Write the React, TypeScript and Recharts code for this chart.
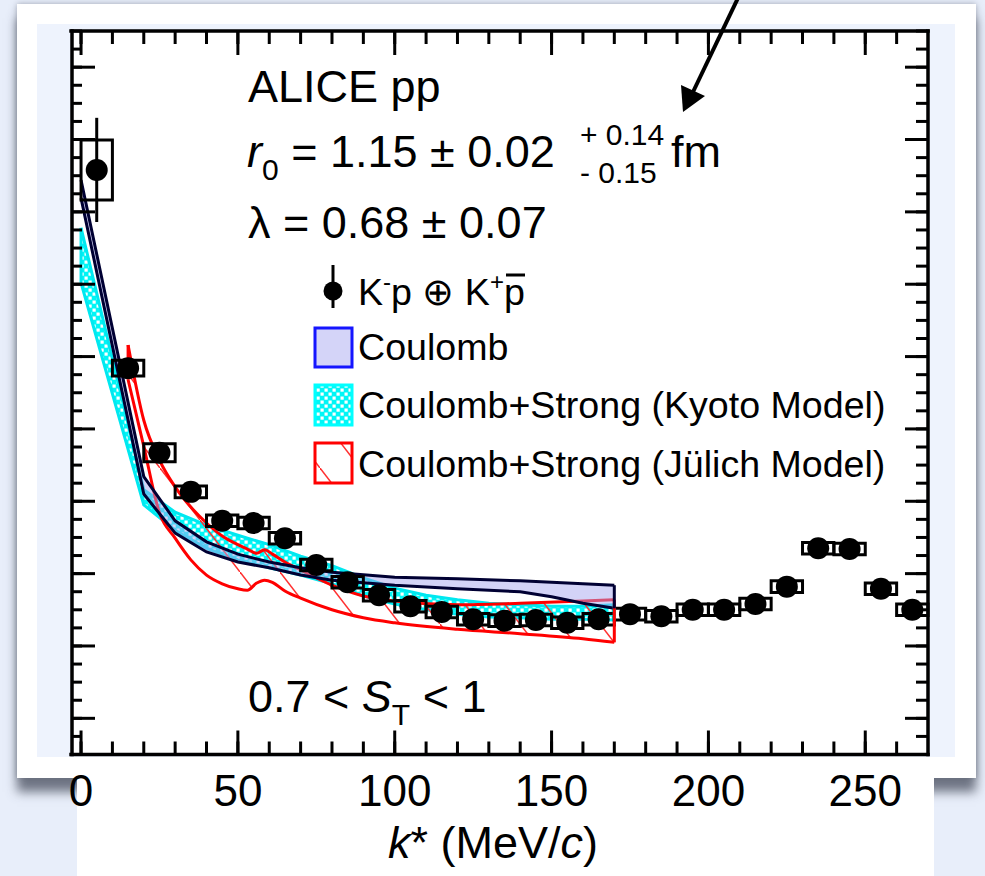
import React from 'react'
import {
  ComposedChart,
  Area,
  Scatter,
  XAxis,
  YAxis,
  ErrorBar,
  ReferenceArea,
  ReferenceLine,
} from 'recharts'

// K-p (+) K+pbar correlation, 0.7 < S_T < 1
const kStar = [5, 15, 25, 35, 45, 55, 65, 75, 85, 95, 105, 115, 125, 135, 145, 155, 165, 175, 185, 195, 205, 215, 225, 235, 245, 255, 265]
const corr = [1.658, 1.384, 1.267, 1.213, 1.173, 1.17, 1.149, 1.112, 1.088, 1.07, 1.055, 1.047, 1.037, 1.035, 1.036, 1.032, 1.037, 1.044, 1.041, 1.05, 1.05, 1.058, 1.082, 1.135, 1.134, 1.079, 1.05]
const statErr = [0.072, 0.012, 0.01, 0.007, 0.006, 0.006, 0.006, 0.005, 0.005, 0.005, 0.005, 0.005, 0.005, 0.005, 0.005, 0.005, 0.005, 0.005, 0.005, 0.005, 0.005, 0.005, 0.005, 0.005, 0.005, 0.005, 0.005]
const systErr = [0.0415, 0.011, 0.0125, 0.008, 0.008, 0.008, 0.008, 0.008, 0.008, 0.008, 0.008, 0.008, 0.008, 0.008, 0.008, 0.008, 0.008, 0.008, 0.008, 0.008, 0.008, 0.008, 0.008, 0.008, 0.008, 0.008, 0.008]
const binHalf = 5

// Coulomb only
const coulombK = [0, 20, 30, 40, 50, 60, 70, 80, 100, 120, 140, 150, 160, 170]
const coulombLow = [1.619, 1.21, 1.156, 1.13, 1.116, 1.108, 1.098, 1.091, 1.084, 1.079, 1.075, 1.068, 1.059, 1.052]
const coulombHigh = [1.644, 1.234, 1.173, 1.144, 1.127, 1.116, 1.108, 1.102, 1.095, 1.093, 1.09, 1.088, 1.086, 1.084]

// Coulomb+Strong, Kyoto
const kyotoK = [0, 20, 30, 40, 50, 60, 70, 80, 90, 100, 110, 120, 130, 140, 150, 160, 170]
const kyotoLow = [1.502, 1.195, 1.16, 1.135, 1.119, 1.108, 1.098, 1.086, 1.069, 1.058, 1.05, 1.044, 1.04, 1.039, 1.037, 1.037, 1.036]
const kyotoHigh = [1.578, 1.216, 1.185, 1.167, 1.153, 1.14, 1.124, 1.111, 1.094, 1.08, 1.07, 1.064, 1.059, 1.057, 1.055, 1.055, 1.057]

// Coulomb+Strong, Julich
const julichK = [15, 20, 25, 30, 35, 40, 45, 50, 53, 56, 58.5, 61, 65, 70, 80, 90, 100, 120, 140, 160, 170]
const julichLow = [1.368, 1.276, 1.184, 1.149, 1.119, 1.098, 1.086, 1.079, 1.077, 1.087, 1.091, 1.088, 1.076, 1.066, 1.05, 1.039, 1.032, 1.023, 1.017, 1.01, 1.005]
const julichHigh = [1.416, 1.312, 1.257, 1.22, 1.192, 1.17, 1.152, 1.14, 1.134, 1.128, 1.133, 1.127, 1.116, 1.105, 1.084, 1.069, 1.062, 1.057, 1.059, 1.062, 1.064]

const xLabels = [0, 50, 100, 150, 200, 250]
const xMinor = [0, 10, 20, 30, 40, 50, 60, 70, 80, 90, 100, 110, 120, 130, 140, 150, 160, 170, 180, 190, 200, 210, 220, 230, 240, 250, 260]
const yMajor = [0.9, 1.0, 1.1, 1.2, 1.3, 1.4, 1.5, 1.6, 1.7, 1.8]
const yMinor = Array.from({ length: 41 }, (_, i) => +(0.85 + i * 0.025).toFixed(3))

const X_DOMAIN: [number, number] = [-3.2, 270]
const Y_DOMAIN: [number, number] = [0.85, 1.85]

const FONT = '"Liberation Sans", Arial, Helvetica, sans-serif'

const points = kStar.map((k, i) => ({ k, c: corr[i], stat: statErr[i], syst: systErr[i] }))
const band = (ks: number[], lo: number[], hi: number[]) => ks.map((k, i) => ({ k, band: [lo[i], hi[i]] }))
const coulombData = band(coulombK, coulombLow, coulombHigh)
const kyotoData = band(kyotoK, kyotoLow, kyotoHigh)
const julichData = band(julichK, julichLow, julichHigh)

const frame = { stroke: '#000', strokeWidth: 3.5, strokeLinecap: 'square' as const }
const tickStyle = { stroke: '#000', strokeWidth: 3 }
const NoLabel = () => <g />

const Dot = (p: any) => <circle cx={p.cx} cy={p.cy} r={11} fill="#000" />

const Patterns = ({ prefix }: { prefix: string }) => (
  <defs>
    <pattern id={prefix + 'kyoto'} width="8" height="8" patternUnits="userSpaceOnUse">
      <rect width="8" height="8" fill="#00f6f6" />
      <rect x="0.5" y="0.5" width="3.2" height="3.2" fill="#ffffff" />
      <rect x="4.5" y="4.5" width="3.2" height="3.2" fill="#ffffff" />
    </pattern>
    <pattern id={prefix + 'julich'} width="40" height="52" patternUnits="userSpaceOnUse">
      <line x1="0" y1="0" x2="40" y2="52" stroke="#ff3030" strokeWidth="1.5" />
    </pattern>
  </defs>
)

const last = (arr: number[]) => arr[arr.length - 1]

const App = () => {
  return (
    <div style={{ position: 'absolute', left: 0, top: 0, width: 985, height: 876, background: '#e8eefa', overflow: 'hidden', fontFamily: FONT }}>
      {/* slide card */}
      <div style={{ position: 'absolute', left: 17, top: 4, width: 959, height: 774, background: '#fff', boxShadow: '0 14px 10px rgba(90,96,112,0.85), 0 0 6px rgba(90,96,112,0.5)' }} />
      <div style={{ position: 'absolute', left: 77, top: 778, width: 857, height: 98, background: '#fff' }} />
      <div style={{ position: 'absolute', left: 37, top: 24, width: 918, height: 733, background: '#eef3fd' }} />
      <div style={{ position: 'absolute', left: 71, top: 31, width: 857, height: 724, background: '#fff' }} />

      <div style={{ position: 'absolute', left: 0, top: 0 }}>
        <ComposedChart width={985} height={876} margin={{ top: 31, left: 71, right: 57, bottom: 61.5 }}>
          <Patterns prefix="c-" />
          {/* label axis */}
          <XAxis xAxisId="main" type="number" dataKey="k" domain={X_DOMAIN} allowDataOverflow ticks={xLabels} interval={0}
            orientation="bottom" height={60} tickSize={0} tickMargin={20} tickLine={false} axisLine={false}
            tick={{ fontSize: 44, fill: '#000', fontFamily: FONT }} />
          <XAxis xAxisId="bMaj" type="number" dataKey="k" domain={X_DOMAIN} allowDataOverflow ticks={xLabels} interval={0}
            orientation="bottom" mirror height={1} tickSize={24} tick={NoLabel} tickLine={tickStyle} axisLine={frame} />
          <XAxis xAxisId="bMin" type="number" dataKey="k" domain={X_DOMAIN} allowDataOverflow ticks={xMinor} interval={0}
            orientation="bottom" mirror height={1} tickSize={12} tick={NoLabel} tickLine={tickStyle} axisLine={false} />
          <XAxis xAxisId="tMaj" type="number" dataKey="k" domain={X_DOMAIN} allowDataOverflow ticks={xLabels} interval={0}
            orientation="top" mirror height={1} tickSize={24} tick={NoLabel} tickLine={tickStyle} axisLine={frame} />
          <XAxis xAxisId="tMin" type="number" dataKey="k" domain={X_DOMAIN} allowDataOverflow ticks={xMinor} interval={0}
            orientation="top" mirror height={1} tickSize={12} tick={NoLabel} tickLine={tickStyle} axisLine={false} />

          <YAxis yAxisId="main" type="number" domain={Y_DOMAIN} allowDataOverflow ticks={yMajor} interval={0}
            orientation="left" mirror width={1} tickSize={23} tick={NoLabel} tickLine={tickStyle} axisLine={frame} />
          <YAxis yAxisId="lMin" type="number" domain={Y_DOMAIN} allowDataOverflow ticks={yMinor} interval={0}
            orientation="left" mirror width={1} tickSize={11} tick={NoLabel} tickLine={tickStyle} axisLine={false} />
          <YAxis yAxisId="rMaj" type="number" domain={Y_DOMAIN} allowDataOverflow ticks={yMajor} interval={0}
            orientation="right" mirror width={1} tickSize={23} tick={NoLabel} tickLine={tickStyle} axisLine={frame} />
          <YAxis yAxisId="rMin" type="number" domain={Y_DOMAIN} allowDataOverflow ticks={yMinor} interval={0}
            orientation="right" mirror width={1} tickSize={11} tick={NoLabel} tickLine={tickStyle} axisLine={false} />

          <Area data={kyotoData} dataKey="band" xAxisId="main" yAxisId="main" type="linear"
            stroke="#00e8f0" strokeWidth={3} fill="url(#c-kyoto)" fillOpacity={1} dot={false} activeDot={false} isAnimationActive={false} />
          <Area data={julichData} dataKey="band" xAxisId="main" yAxisId="main" type="monotone"
            stroke="#ff0000" strokeWidth={3} fill="url(#c-julich)" fillOpacity={1} dot={false} activeDot={false} isAnimationActive={false} />
          <Area data={coulombData} dataKey="band" xAxisId="main" yAxisId="main" type="linear"
            stroke="#000033" strokeWidth={3} fill="#a8a8f0" fillOpacity={0.5} dot={false} activeDot={false} isAnimationActive={false} />

          <ReferenceLine xAxisId="main" yAxisId="main" stroke="#00e8f0" strokeWidth={3} ifOverflow="visible"
            segment={[{ x: kyotoK[0], y: kyotoLow[0] }, { x: kyotoK[0], y: kyotoHigh[0] }]} />
          <ReferenceLine xAxisId="main" yAxisId="main" stroke="#00e8f0" strokeWidth={3} ifOverflow="visible"
            segment={[{ x: last(kyotoK), y: last(kyotoLow) }, { x: last(kyotoK), y: last(kyotoHigh) }]} />
          <ReferenceLine xAxisId="main" yAxisId="main" stroke="#ff0000" strokeWidth={3} ifOverflow="visible"
            segment={[{ x: julichK[0], y: julichLow[0] }, { x: julichK[0], y: julichHigh[0] }]} />
          <ReferenceLine xAxisId="main" yAxisId="main" stroke="#ff0000" strokeWidth={3} ifOverflow="visible"
            segment={[{ x: last(julichK), y: last(julichLow) }, { x: last(julichK), y: last(julichHigh) }]} />
          <ReferenceLine xAxisId="main" yAxisId="main" stroke="#000033" strokeWidth={3} ifOverflow="visible"
            segment={[{ x: last(coulombK), y: last(coulombLow) }, { x: last(coulombK), y: last(coulombHigh) }]} />

          {points.map((p) => (
            <ReferenceArea key={p.k} xAxisId="main" yAxisId="main" x1={p.k - binHalf} x2={p.k + binHalf}
              y1={p.c - p.syst} y2={p.c + p.syst} fill="none" stroke="#000" strokeWidth={3} ifOverflow="visible" />
          ))}

          <Scatter data={points} dataKey="c" xAxisId="main" yAxisId="main" shape={Dot} isAnimationActive={false}>
            <ErrorBar dataKey="stat" direction="y" width={0} stroke="#000" strokeWidth={3} />
          </Scatter>
        </ComposedChart>
      </div>

      {/* annotations */}
      <svg width={985} height={876} style={{ position: 'absolute', left: 0, top: 0, pointerEvents: 'none' }} fontFamily={FONT}>
        <Patterns prefix="l-" />
        <line x1={738} y1={-2} x2={693} y2={92} stroke="#000" strokeWidth={4} />
        <polygon points="683,112 681,85 705,96" fill="#000" />

        <text x={248} y={102} fontSize={45}>ALICE pp</text>
        <text x={247} y={167} fontSize={45}>
          <tspan fontStyle="italic">r</tspan>
          <tspan fontSize={30} dy={13}>0</tspan>
          <tspan dy={-13}> = 1.15 ± 0.02</tspan>
        </text>
        <text x={580} y={145} fontSize={30}>+ 0.14</text>
        <text x={580} y={183} fontSize={30}>- 0.15</text>
        <text x={671} y={167} fontSize={45}>fm</text>
        <text x={248} y={238} fontSize={45}>λ = 0.68 ± 0.07</text>

        <line x1={333} y1={265} x2={333} y2={308} stroke="#000" strokeWidth={3} />
        <circle cx={333} cy={291} r={9.5} fill="#000" />
        <text x={358} y={305} fontSize={37.6}>
          K<tspan fontSize={24} dy={-15}>-</tspan>
          <tspan dy={15}>p ⊕ K</tspan>
          <tspan fontSize={24} dy={-15}>+</tspan>
          <tspan dy={15}>p</tspan>
        </text>
        <line x1={506} y1={275} x2={525} y2={275} stroke="#000" strokeWidth={3} />

        <rect x={315} y={328} width={37} height={39} fill="#d4d4f8" stroke="#1515ff" strokeWidth={3} />
        <text x={358} y={360} fontSize={37.6}>Coulomb</text>
        <rect x={315} y={385} width={37} height={40} fill="url(#l-kyoto)" stroke="#00ffff" strokeWidth={3} />
        <text x={358} y={418} fontSize={37.6}>Coulomb+Strong (Kyoto Model)</text>
        <rect x={315} y={443} width={37} height={40} fill="url(#l-julich)" stroke="#ff0000" strokeWidth={3} />
        <text x={358} y={477} fontSize={37.6}>Coulomb+Strong (Jülich Model)</text>

        <text x={248} y={712} fontSize={45}>
          0.7 &lt; <tspan fontStyle="italic">S</tspan>
          <tspan fontSize={30} dy={13}>T</tspan>
          <tspan dy={-13}> &lt; 1</tspan>
        </text>

        <text x={388} y={858} fontSize={45}>
          <tspan fontStyle="italic">k</tspan>* (MeV/<tspan fontStyle="italic">c</tspan>)
        </text>
      </svg>
    </div>
  )
}

export default App
